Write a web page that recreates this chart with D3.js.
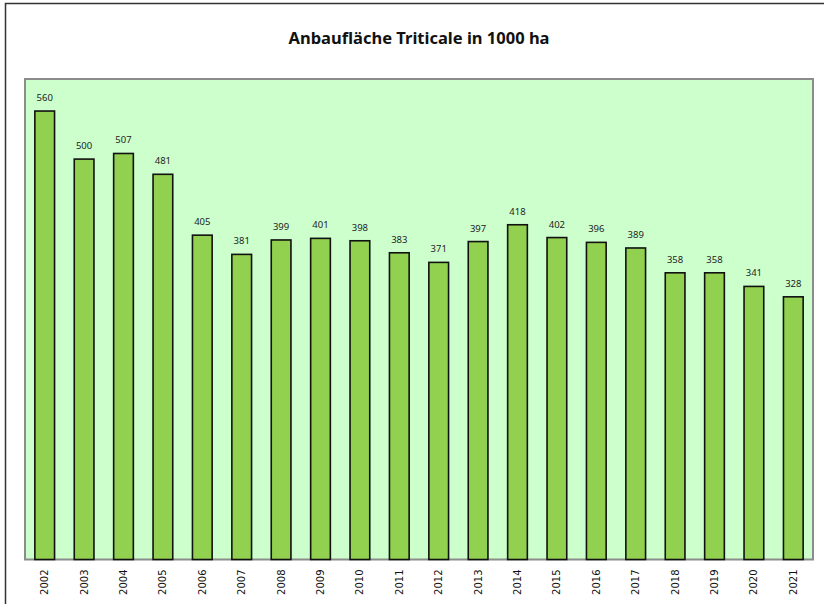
<!DOCTYPE html>
<html><head><meta charset="utf-8">
<script src="https://cdn.jsdelivr.net/npm/d3@7"></script>
<style>body{margin:0;background:#fff}svg{display:block}</style>
</head><body>
<svg id="c" width="824" height="604"></svg>
<script>
const years = ["2002","2003","2004","2005","2006","2007","2008","2009","2010","2011","2012","2013","2014","2015","2016","2017","2018","2019","2020","2021"];
const values = [560,500,507,481,405,381,399,401,398,383,371,397,418,402,396,389,358,358,341,328];
const titleText = "Anbaufläche Triticale in 1000 ha";

const svg = d3.select("#c");
const m = {left:25, top:79, right:813, bottom:559.5};

// outer frame
svg.append("rect").attr("x",5.5).attr("y",3.5).attr("width",830).attr("height",620)
  .attr("fill","#fff").attr("stroke","#333").attr("stroke-width",1.5);

const x = d3.scaleBand().domain(years).range([m.left,m.right]).paddingInner(0.5).paddingOuter(0.25);
const y = d3.scaleLinear().domain([0,600]).range([m.bottom,m.top]);

svg.append("rect").attr("x",m.left).attr("y",m.top).attr("width",m.right-m.left).attr("height",m.bottom-m.top)
  .attr("fill","#CCFFCC").attr("stroke","#8c8c8c").attr("stroke-width",2);

svg.append("text").attr("x",(m.left+m.right)/2).attr("y",44).attr("text-anchor","middle")
  .attr("font-family","'Noto Sans', 'Open Sans', sans-serif").attr("font-weight","bold").attr("font-size",16.5)
  .attr("fill","#111").text(titleText);

svg.append("g").selectAll("rect").data(values).join("rect")
  .attr("x",(d,i)=>x(years[i])).attr("width",x.bandwidth())
  .attr("y",d=>y(d)).attr("height",d=>y(0)-y(d))
  .attr("fill","#92D050").attr("stroke","#111").attr("stroke-width",1.6);

svg.append("g").selectAll("text").data(values).join("text")
  .attr("x",(d,i)=>x(years[i])+x.bandwidth()/2).attr("y",d=>y(d)-10)
  .attr("text-anchor","middle").attr("font-family","'Noto Sans', sans-serif").attr("font-size",9.5)
  .attr("fill","#222").text(d=>d);

const ax = d3.axisBottom(x).tickSize(0).tickPadding(0);
const g = svg.append("g").attr("transform",`translate(0,${m.bottom})`).call(ax);
g.select(".domain").remove();
g.selectAll("text").attr("transform","rotate(-90)").attr("text-anchor","end")
  .attr("x",-10).attr("y",0).attr("dy","0.35em")
  .attr("font-family","'DejaVu Sans', sans-serif").attr("font-size",10).attr("fill","#111");
</script>
</body></html>
